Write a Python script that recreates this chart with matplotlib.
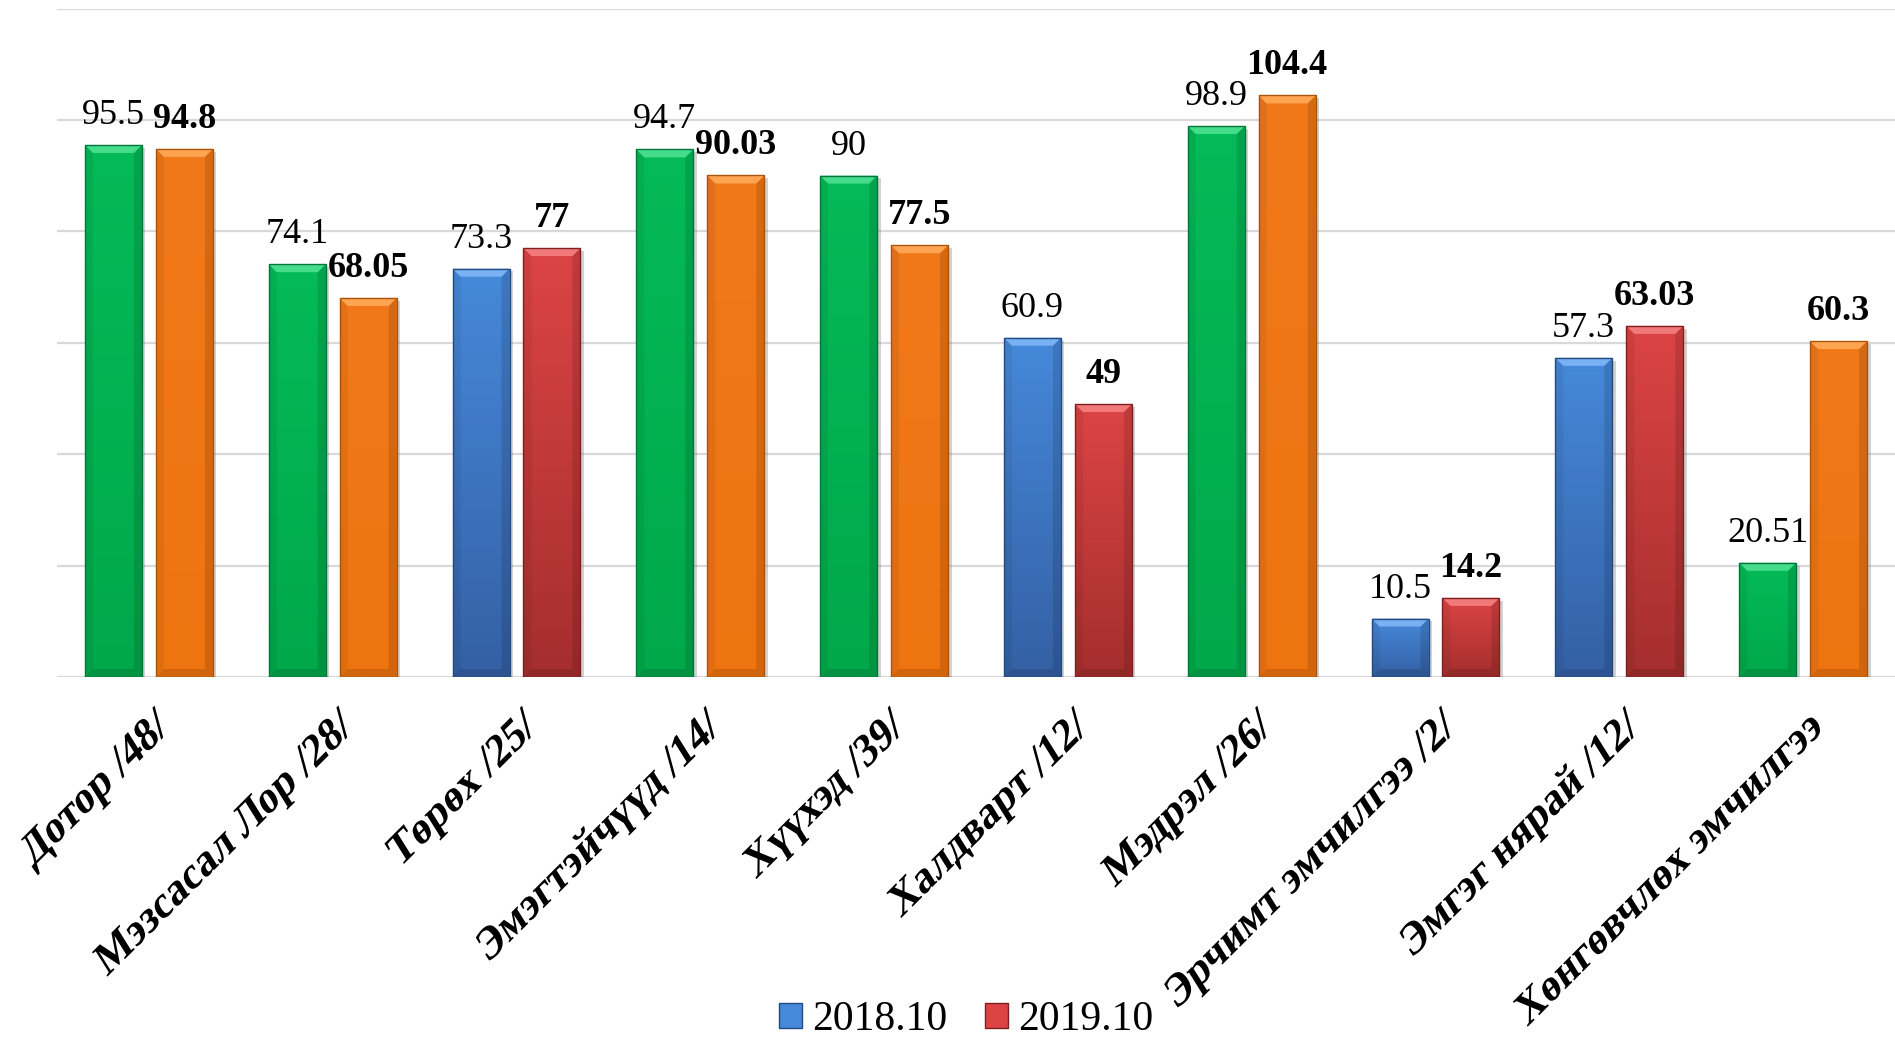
import numpy as np
import matplotlib
matplotlib.use('Agg')
import matplotlib.pyplot as plt
from matplotlib.colors import LinearSegmentedColormap
from matplotlib.patches import Polygon, Patch
from matplotlib.transforms import Affine2D
import matplotlib.patheffects as pe

categories = ['Дотор /48/', 'Мэзсасал Лор /28/', 'Төрөх /25/', 'Эмэгтэйчүүд /14/',
              'Хүүхэд /39/', 'Халдварт /12/', 'Мэдрэл /26/', 'Эрчимт эмчилгээ /2/',
              'Эмгэг нярай /12/', 'Хөнгөвчлөх эмчилгээ']
y2018 = [95.5, 74.1, 73.3, 94.7, 90, 60.9, 98.9, 10.5, 57.3, 20.51]
y2019 = [94.8, 68.05, 77, 90.03, 77.5, 49, 104.4, 14.2, 63.03, 60.3]
series_names = ['2018.10', '2019.10']

# which groups are drawn in the blue/red colours (the rest are green/orange)
blue_red = [False, False, True, False, False, True, False, True, True, False]

# (top colour, bottom colour, bevel colour, edge colour)
st_green = ('#05BA58', '#00A84A', '#45DC8C', '#00763A')
st_orange = ('#F2791A', '#EE7410', '#FFA552', '#A9540A')
st_blue = ('#4689DA', '#3460A4', '#79B2F4', '#244A80')
st_red = ('#DC4444', '#A52E2E', '#F27979', '#7E2020')

plt.rcParams['font.family'] = ['Liberation Serif', 'DejaVu Serif']


class Oblique(pe.AbstractPathEffect):
    # slant the glyphs (bold upright font made oblique, like the original)
    def __init__(self, angle=13):
        super().__init__()
        self.skew = Affine2D().skew_deg(angle, 0)

    def draw_path(self, renderer, gc, tpath, affine, rgbFace=None):
        renderer.draw_path(gc, self.skew.transform_path(tpath), affine, rgbFace)


W, H = 1895, 1039
fig = plt.figure(figsize=(W / 100, H / 100), dpi=100)
ax = fig.add_axes([57 / W, 1 - 677 / H, 1 - 57 / W, (677 - 8.5) / H])
ax.set_xlim(-0.5, 9.5)
ax.set_ylim(0, 120)

bw = 0.31
off = 0.193
# bevel size in data units (about 8 px)
px_x = (W - 57) / 10.0
px_y = (677 - 8.5) / 120.0
bx = 8 / px_x
by = 8 / px_y


def draw_bar(x, h, style):
    top, bot, bevel, edge = style
    bar = ax.bar(x, h, width=bw, color=top, linewidth=0, zorder=3)[0]
    bar.set_path_effects([pe.SimplePatchShadow(offset=(2.5, -2), shadow_rgbFace='#808080', alpha=0.35),
                          pe.Normal()])
    cmap = LinearSegmentedColormap.from_list('g', [bot, top])
    grad = np.linspace(0, 1, 256).reshape(-1, 1)
    im = ax.imshow(grad, extent=[x - bw / 2, x + bw / 2, 0, h], origin='lower',
                   aspect='auto', cmap=cmap, zorder=3.1, interpolation='bilinear')
    im.set_clip_path(bar)
    x0, x1 = x - bw / 2, x + bw / 2
    # side and bottom shading
    ax.add_patch(Polygon([(x0, 0), (x0, h), (x0 + bx, h - by), (x0 + bx, by)],
                         fc='k', alpha=0.06, ec='none', zorder=3.2))
    ax.add_patch(Polygon([(x1, 0), (x1, h), (x1 - bx, h - by), (x1 - bx, by)],
                         fc='k', alpha=0.12, ec='none', zorder=3.2))
    ax.add_patch(Polygon([(x0, 0), (x1, 0), (x1 - bx, by), (x0 + bx, by)],
                         fc='k', alpha=0.12, ec='none', zorder=3.2))
    ax.add_patch(Polygon([(x0, h), (x1, h), (x1 - bx, h - by), (x0 + bx, h - by)],
                         fc=bevel, ec='none', zorder=3.3))
    ax.bar(x, h, width=bw, fill=False, edgecolor=edge, linewidth=1.0, zorder=3.4)


for i in range(len(categories)):
    s1, s2 = (st_blue, st_red) if blue_red[i] else (st_green, st_orange)
    draw_bar(i - off, y2018[i], s1)
    draw_bar(i + off, y2019[i], s2)
    ax.annotate('%g' % y2018[i], (i - off, y2018[i]), xytext=(0, 21), textcoords='offset pixels',
                ha='center', va='baseline', fontsize=26, zorder=5)
    ax.annotate('%g' % y2019[i], (i + off, y2019[i]), xytext=(0, 21), textcoords='offset pixels',
                ha='center', va='baseline', fontsize=26, fontweight='bold', zorder=5)

ax.set_yticks(np.arange(0, 121, 20))
ax.yaxis.grid(True, color='#D9D9D9', linewidth=1.6)
ax.set_axisbelow(True)
ax.tick_params(axis='y', length=0, labelleft=False)
ax.set_xticks(range(len(categories)))
ax.set_xticklabels(categories, rotation=45, ha='right', va='top', rotation_mode='anchor',
                   fontsize=31, fontweight='bold')
for t in ax.get_xticklabels():
    t.set_path_effects([Oblique(13)])
ax.tick_params(axis='x', length=0, pad=24)
for sp in ax.spines.values():
    sp.set_visible(False)

handles = [Patch(facecolor=st_blue[0], edgecolor=st_blue[3], linewidth=1),
           Patch(facecolor=st_red[0], edgecolor=st_red[3], linewidth=1)]
fig.legend(handles, series_names, loc='center', bbox_to_anchor=(966 / W, 1 - 1020 / H),
           ncol=2, frameon=False, fontsize=30, handlelength=0.55, handleheight=0.55,
           handletextpad=0.25, columnspacing=0.9, borderpad=0)

fig.savefig('out.png', dpi=100)
